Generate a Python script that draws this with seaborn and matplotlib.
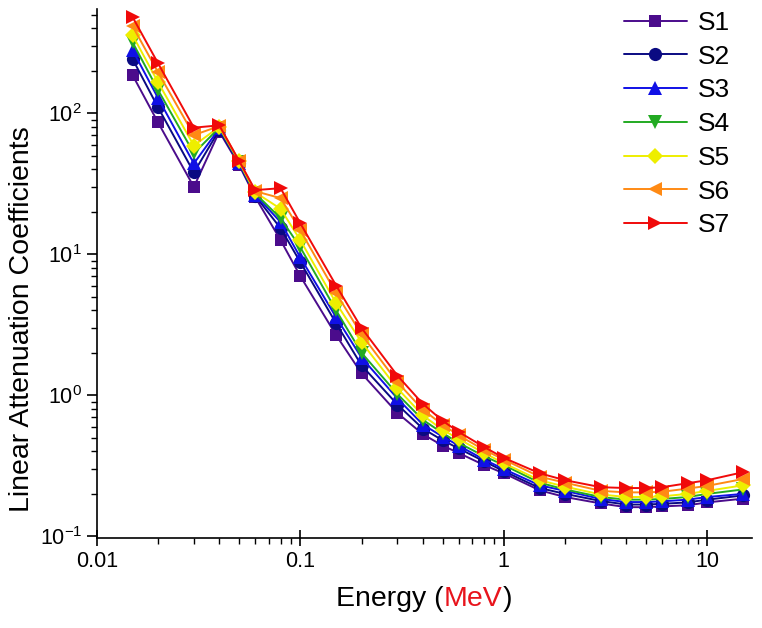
import numpy as np
import pandas as pd
import matplotlib
matplotlib.use("Agg")
import matplotlib.pyplot as plt
import seaborn as sns
from matplotlib.offsetbox import TextArea, HPacker, AnchoredOffsetbox

# photon energies (MeV)
energy = [0.015, 0.02, 0.03, 0.04, 0.05, 0.06, 0.08, 0.1, 0.15, 0.2, 0.3, 0.4, 0.5,
          0.6, 0.8, 1, 1.5, 2, 3, 4, 5, 6, 8, 10, 15]

s1 = [186, 86, 30, 74, 43, 25.5, 12.6, 7.0, 2.67, 1.43, 0.75, 0.53, 0.44, 0.39, 0.32,
      0.28, 0.212, 0.19, 0.171, 0.161, 0.161, 0.163, 0.166, 0.174, 0.185]
s2 = [242, 110, 38, 76, 44, 26, 15.3, 8.8, 3.24, 1.63, 0.86, 0.58, 0.48, 0.42, 0.34,
      0.29, 0.22, 0.20, 0.178, 0.168, 0.168, 0.17, 0.174, 0.182, 0.195]
s3 = [280, 128, 44, 78, 44.5, 26.5, 16.9, 9.5, 3.57, 1.85, 0.95, 0.62, 0.51, 0.44, 0.35,
      0.30, 0.23, 0.21, 0.184, 0.175, 0.175, 0.177, 0.182, 0.19, 0.20]
s4 = [318, 146, 52, 79, 45, 27, 18, 11.2, 4.0, 2.0, 1.02, 0.67, 0.54, 0.46, 0.37,
      0.32, 0.24, 0.215, 0.19, 0.182, 0.182, 0.184, 0.19, 0.20, 0.215]
s5 = [357, 166, 59, 80, 45.5, 27.5, 21, 12.6, 4.5, 2.38, 1.12, 0.72, 0.57, 0.49, 0.39,
      0.33, 0.25, 0.225, 0.198, 0.19, 0.19, 0.192, 0.20, 0.21, 0.23]
s6 = [414, 195, 70, 81, 46, 28, 25, 14.8, 5.3, 2.7, 1.24, 0.79, 0.62, 0.52, 0.41,
      0.35, 0.265, 0.24, 0.21, 0.205, 0.205, 0.207, 0.218, 0.228, 0.255]
s7 = [480, 226, 79, 82, 46, 28.5, 29.4, 16.6, 6.0, 3.0, 1.38, 0.87, 0.66, 0.55, 0.43,
      0.36, 0.28, 0.25, 0.223, 0.22, 0.22, 0.223, 0.238, 0.25, 0.285]

names = ["S1", "S2", "S3", "S4", "S5", "S6", "S7"]
series = [s1, s2, s3, s4, s5, s6, s7]
colors = ["#4B0C8C", "#0A0A82", "#1010E6", "#22AA22", "#EEEE00", "#FF8A14", "#F00A0A"]
markers = ["s", "o", "^", "v", "D", "<", ">"]
msizes = [9, 9.5, 10, 10, 8.5, 10, 10]

sns.set_style("ticks")
plt.rcParams["font.family"] = ["Liberation Sans", "DejaVu Sans"]
plt.rcParams["mathtext.fontset"] = "custom"
plt.rcParams["mathtext.rm"] = "Liberation Sans"
plt.rcParams["mathtext.it"] = "Liberation Sans:italic"
for k in ["text.color", "axes.labelcolor", "xtick.color", "ytick.color"]:
    plt.rcParams[k] = "black"

fig = plt.figure(figsize=(7.62, 6.28), dpi=100)
ax = fig.add_axes([0.127, 0.143, 0.860, 0.843])

for name, vals, c, m, ms in zip(names, series, colors, markers, msizes):
    df = pd.DataFrame({"Energy": energy, "mu": vals})
    sns.lineplot(data=df, x="Energy", y="mu", color=c, marker=m, markersize=ms,
                 markeredgewidth=0, linewidth=1.4, label=name, ax=ax)

ax.set_xscale("log")
ax.set_yscale("log")
ax.set_xlim(0.01, 16.6)
ax.set_ylim(0.097, 550)
ax.set_xticks([0.01, 0.1, 1, 10], labels=["0.01", "0.1", "1", "10"])

for side in ["top", "right"]:
    ax.spines[side].set_visible(False)
for side in ["left", "bottom"]:
    ax.spines[side].set_linewidth(1.2)
    ax.spines[side].set_color("black")

ax.tick_params(axis="both", which="major", labelsize=15.5, width=1.2, color="black")
ax.tick_params(axis="x", which="major", direction="inout", length=12)
ax.tick_params(axis="y", which="major", direction="out", length=7)
ax.tick_params(axis="both", which="minor", direction="out", length=4, width=1.0, color="black")

ax.set_xlabel("")
ax.set_ylabel("Linear Attenuation Coefficients", fontsize=20.5)
ax.yaxis.set_label_coords(-0.095, 0.413)

# x label with red unit
parts = [TextArea("Energy (", textprops=dict(fontsize=20.5, color="black")),
         TextArea("MeV", textprops=dict(fontsize=20.5, color="#E8141C")),
         TextArea(")", textprops=dict(fontsize=20.5, color="black"))]
box = HPacker(children=parts, align="baseline", pad=0, sep=0)
anch = AnchoredOffsetbox(loc="center", child=box, pad=0, borderpad=0, frameon=False,
                         bbox_to_anchor=(0.5, -0.114), bbox_transform=ax.transAxes)
ax.add_artist(anch)

h, l = ax.get_legend_handles_labels()
ax.legend(h, l, loc="upper right", bbox_to_anchor=(0.966, 0.996), frameon=False,
          fontsize=19, labelspacing=0.37, handlelength=2.4, handletextpad=0.4,
          borderpad=0, borderaxespad=0)

fig.savefig("out.png", dpi=100)
